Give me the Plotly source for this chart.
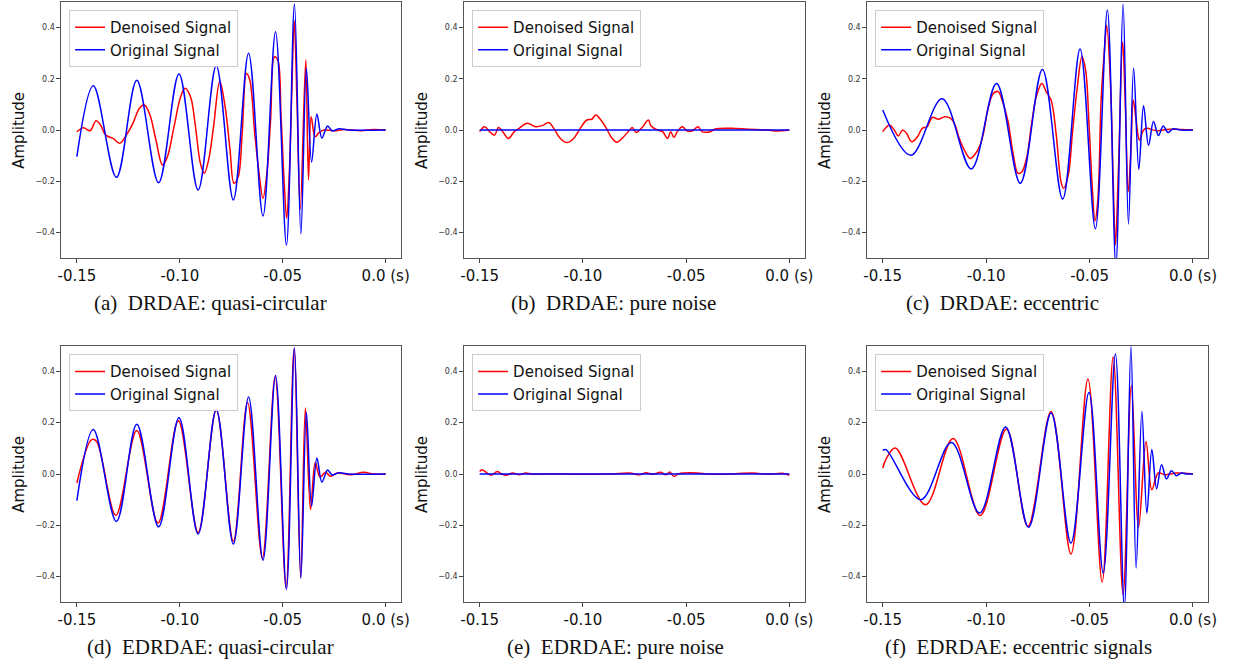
import plotly.graph_objects as go

# ---------------- data ----------------
# (a)/(d) original quasi-circular signal
t_qc_orig = [-0.15, -0.142, -0.1308, -0.1209, -0.1103, -0.1004, -0.0911, -0.0823, -0.074, -0.0666,
             -0.0596, -0.0535, -0.0482, -0.0443, -0.0412, -0.0385, -0.036, -0.0334, -0.031, -0.0282,
             -0.026, -0.0228, -0.018, 0.0]
v_qc_orig = [-0.104, 0.173, -0.185, 0.194, -0.206, 0.219, -0.234, 0.251, -0.273, 0.30,
             -0.336, 0.384, -0.45, 0.492, -0.406, 0.241, -0.125, 0.0625, -0.031, 0.016,
             -0.004, 0.005, 0.0, 0.0]

# (a) DRDAE denoised quasi-circular
t_a_den = [-0.15, -0.1468, -0.1436, -0.1407, -0.1388, -0.1359, -0.1324, -0.1292, -0.126, -0.1228,
           -0.1196, -0.1172, -0.1145, -0.1116, -0.1084, -0.106, -0.1028, -0.0996, -0.0975, -0.0948,
           -0.0924, -0.09, -0.0881, -0.086, -0.0836, -0.0806, -0.078, -0.0756, -0.0737, -0.0716,
           -0.0697, -0.0676, -0.066, -0.0636, -0.0615, -0.0596, -0.0577, -0.0559, -0.054, -0.0524,
           -0.0508, -0.0492, -0.0481, -0.0468, -0.0457, -0.0444, -0.0431, -0.0415, -0.0388, -0.0375,
           -0.0362, -0.0343, -0.0324, -0.03, -0.025, -0.02, -0.012, -0.006, 0.0]
v_a_den = [-0.007, 0.009, -0.003, 0.036, 0.023, -0.02, -0.033, -0.052, -0.02, 0.026,
           0.085, 0.098, 0.059, -0.039, -0.137, -0.104, 0.013, 0.13, 0.163, 0.13,
           0.013, -0.13, -0.169, -0.117, 0.013, 0.19, 0.091, -0.078, -0.208, -0.182,
           -0.013, 0.221, 0.195, -0.013, -0.169, -0.267, -0.169, 0.039, 0.286, 0.273,
           0.052, -0.221, -0.345, -0.169, 0.117, 0.427, 0.117, -0.31, 0.273, -0.195,
           0.052, -0.026, -0.01, 0.0, -0.003, 0.002, -0.003, 0.002, 0.0]

# (b)/(e) original pure-noise case: flat zero
t_flat = [-0.15, 0.0]
v_flat = [0.0, 0.0]

# (b) DRDAE denoised pure noise
t_b_den = [-0.15, -0.1476, -0.1452, -0.1428, -0.1409, -0.1388, -0.1361, -0.1332, -0.1309, -0.1269,
           -0.1229, -0.1197, -0.1165, -0.1141, -0.1109, -0.1077, -0.1045, -0.1013, -0.0981, -0.0957,
           -0.0937, -0.091, -0.0886, -0.0862, -0.0835, -0.0806, -0.0774, -0.0761, -0.0742, -0.071,
           -0.0683, -0.067, -0.0638, -0.0614, -0.059, -0.0575, -0.0559, -0.0543, -0.0519, -0.0495,
           -0.0471, -0.0442, -0.0423, -0.0383, -0.0359, -0.0279, -0.02, -0.0104, -0.0072, 0.0]
v_b_den = [-0.0065, 0.013, -0.0065, -0.02, 0.010, -0.0065, -0.033, -0.0065, 0.0065, 0.026,
           0.013, 0.017, 0.029, 0.0065, -0.033, -0.049, -0.033, 0.0065, 0.039, 0.042,
           0.059, 0.036, 0.0065, -0.029, -0.048, -0.029, 0.0, 0.010, -0.010, 0.013,
           0.039, 0.016, 0.0, -0.0065, -0.033, -0.0065, -0.029, -0.0065, 0.013, -0.004,
           -0.004, 0.013, -0.0065, -0.0065, 0.004, 0.0065, 0.003, 0.0, -0.004, 0.0]

# (c) original eccentric signal
t_c_orig = [-0.15, -0.1364, -0.1213, -0.1072, -0.095, -0.0835, -0.0728, -0.063, -0.0546, -0.0472,
            -0.0414, -0.0373, -0.0338, -0.0312, -0.0287, -0.0262, -0.0239, -0.0215, -0.0191, -0.0167,
            -0.0144, -0.012, -0.0096, -0.006, 0.0]
v_c_orig = [0.078, -0.099, 0.122, -0.152, 0.182, -0.208, 0.236, -0.27, 0.316, -0.386,
            0.469, -0.53, 0.492, -0.367, 0.242, -0.154, 0.095, -0.06, 0.033, -0.021,
            0.016, -0.010, 0.005, 0.0, 0.0]

# (c) DRDAE denoised eccentric
t_c_den = [-0.15, -0.1484, -0.1468, -0.1444, -0.1425, -0.1404, -0.1385, -0.136, -0.1332, -0.1309,
           -0.1285, -0.1261, -0.1229, -0.12, -0.1173, -0.1152, -0.1133, -0.1101, -0.1077, -0.1053,
           -0.1029, -0.1013, -0.0989, -0.0965, -0.0942, -0.0918, -0.0894, -0.087, -0.0846, -0.0827,
           -0.0803, -0.0782, -0.0758, -0.0731, -0.071, -0.0686, -0.0662, -0.0638, -0.0626, -0.0603,
           -0.0583, -0.0559, -0.0537, -0.0519, -0.0503, -0.0487, -0.0474, -0.046, -0.0444, -0.0428,
           -0.0417, -0.0399, -0.0385, -0.0375, -0.036, -0.034, -0.0327, -0.0313, -0.03, -0.0289,
           -0.0275, -0.0259, -0.0239, -0.0223, -0.0176, -0.0112, 0.0]
v_c_den = [-0.0065, 0.010, 0.02, 0.0, -0.023, 0.0, -0.013, -0.046, -0.026, 0.0065,
           0.013, 0.049, 0.042, 0.052, 0.046, 0.023, -0.026, -0.085, -0.111, -0.094,
           -0.059, -0.013, 0.091, 0.143, 0.15, 0.104, 0.033, -0.091, -0.169, -0.163,
           -0.104, 0.013, 0.13, 0.182, 0.15, 0.117, -0.013, -0.202, -0.228, -0.176,
           -0.013, 0.169, 0.286, 0.234, 0.026, -0.221, -0.355, -0.273, 0.117, 0.313,
           0.408, 0.182, -0.221, -0.449, -0.143, 0.345, 0.091, -0.241, -0.078, 0.117,
           0.039, -0.039, 0.0, 0.0065, -0.003, 0.003, 0.0]

# (d) EDRDAE denoised quasi-circular
t_d_den = [-0.15, -0.1428, -0.1404, -0.1311, -0.1209, -0.1106, -0.1007, -0.0911, -0.0823, -0.074,
           -0.0671, -0.0599, -0.0537, -0.0484, -0.0445, -0.0413, -0.039, -0.0365, -0.0342, -0.0319,
           -0.0292, -0.0268, -0.0236, -0.017, -0.0107, -0.006, 0.0]
v_d_den = [-0.035, 0.134, 0.127, -0.161, 0.17, -0.191, 0.208, -0.227, 0.248, -0.262,
           0.279, -0.327, 0.378, -0.442, 0.487, -0.403, 0.257, -0.139, 0.045, -0.012,
           0.0065, -0.009, 0.004, -0.003, 0.0065, 0.0, 0.0]

# (e) EDRDAE denoised pure noise
t_e_den = [-0.15, -0.1489, -0.1468, -0.1444, -0.1415, -0.1396, -0.1372, -0.134, -0.1309, -0.1277,
           -0.1245, -0.1189, -0.1029, -0.087, -0.0774, -0.0726, -0.0694, -0.0662, -0.0622, -0.0598,
           -0.0579, -0.0559, -0.0535, -0.0447, -0.0391, -0.0263, -0.0176, -0.0104, -0.0032, 0.0]
v_e_den = [0.010, 0.017, 0.0065, -0.005, 0.010, 0.001, -0.005, 0.004, -0.003, 0.004,
           -0.001, 0.0, -0.001, 0.0, 0.004, -0.003, 0.005, -0.001, 0.0065, -0.003,
           0.008, -0.009, 0.001, 0.004, -0.001, 0.001, 0.004, -0.001, 0.003, -0.005]

# (f) original eccentric signal
t_f_orig = [-0.15, -0.1484, -0.1316, -0.1168, -0.1032, -0.0906, -0.0795, -0.0686, -0.059, -0.0503,
            -0.0434, -0.0375, -0.0332, -0.03, -0.0275, -0.0247, -0.0223, -0.0199, -0.0176, -0.0152,
            -0.0128, -0.0104, -0.008, -0.0056, -0.003, 0.0]
v_f_orig = [0.092, 0.095, -0.10, 0.123, -0.152, 0.183, -0.208, 0.238, -0.269, 0.318,
            -0.386, 0.469, -0.52, 0.497, -0.366, 0.244, -0.152, 0.095, -0.057, 0.036,
            -0.019, 0.013, -0.0065, 0.004, 0.0, 0.0]

# (f) EDRDAE denoised eccentric
t_f_den = [-0.15, -0.1484, -0.1439, -0.1293, -0.116, -0.1029, -0.0902, -0.0798, -0.0686, -0.059,
           -0.0508, -0.0439, -0.0386, -0.0338, -0.0298, -0.0263, -0.0227, -0.0199, -0.0168, -0.0136,
           -0.008, 0.0]
v_f_den = [0.023, 0.058, 0.101, -0.12, 0.138, -0.162, 0.175, -0.204, 0.244, -0.312,
           0.37, -0.421, 0.456, -0.47, 0.344, -0.208, 0.127, -0.061, 0.004, -0.003,
           0.004, 0.0]

captions = ["(a)\u00a0 DRDAE: quasi-circular", "(b)\u00a0 DRDAE: pure noise",
            "(c)\u00a0 DRDAE: eccentric", "(d)\u00a0 EDRDAE: quasi-circular",
            "(e)\u00a0 EDRDAE: pure noise", "(f)\u00a0 EDRDAE: eccentric signals"]
series_names = ["Denoised Signal", "Original Signal"]
x_tick_vals = [-0.15, -0.10, -0.05, 0.0]
x_tick_text = ["-0.15", "-0.10", "-0.05", "0.0 (s)"]
y_tick_vals = [-0.4, -0.2, 0.0, 0.2, 0.4]
y_tick_text = ["\u22120.4", "\u22120.2", "0.0", "0.2", "0.4"]

panel_data = [
    ((t_a_den, v_a_den), (t_qc_orig, v_qc_orig)),
    ((t_b_den, v_b_den), (t_flat, v_flat)),
    ((t_c_den, v_c_den), (t_c_orig, v_c_orig)),
    ((t_d_den, v_d_den), (t_qc_orig, v_qc_orig)),
    ((t_e_den, v_e_den), (t_flat, v_flat)),
    ((t_f_den, v_f_den), (t_f_orig, v_f_orig)),
]

# ---------------- layout geometry (pixels) ----------------
W, H = 1236, 662
col_px = [(58, 401), (464.7, 808.7), (871.7, 1216.3)]
row_px = [(2, 258), (345.7, 602.3)]
legend_left_px = [65.7, 472.7, 879.7]
legend_top_px = [10, 354.3]
ylabel_x_px = [15, 422, 829]
caption_x_px = [[209, 615, 1008], [209, 617, 1024]]
caption_y_px = [303, 647]

fig = go.Figure()
layout = dict(
    width=W, height=H,
    margin=dict(l=0, r=0, t=0, b=0),
    paper_bgcolor="white", plot_bgcolor="white",
    font=dict(family="DejaVu Sans", color="#222"),
    annotations=[],
)

colors = ["#ff0000", "#0000ff"]

for i, (den, orig) in enumerate(panel_data):
    r, c = divmod(i, 3)
    sfx = "" if i == 0 else str(i + 1)
    xa, ya = "x" + sfx, "y" + sfx
    lg = "legend" + sfx
    for k, (tt, vv) in enumerate((den, orig)):
        fig.add_trace(go.Scatter(
            x=tt, y=vv, mode="lines", name=series_names[k],
            line=dict(color=colors[k], width=1.5, shape="spline", smoothing=1.0),
            xaxis=xa, yaxis=ya, legend=lg, showlegend=True,
        ))
    x0, x1 = col_px[c]
    y0, y1 = row_px[r]
    axis_common = dict(showgrid=False, zeroline=False, showline=True, mirror=True,
                       linecolor="#555", linewidth=1, ticks="outside", ticklen=4,
                       tickcolor="#444", tickwidth=1)
    layout["xaxis" + sfx] = dict(
        domain=[x0 / W, x1 / W], anchor=ya, range=[-0.1575, 0.0075],
        tickmode="array", tickvals=x_tick_vals, ticktext=x_tick_text,
        tickfont=dict(family="DejaVu Sans", size=15, color="#111"), **axis_common)
    layout["yaxis" + sfx] = dict(
        domain=[1 - y1 / H, 1 - y0 / H], anchor=xa, range=[-0.5, 0.5],
        tickmode="array", tickvals=y_tick_vals, ticktext=y_tick_text,
        tickfont=dict(family="DejaVu Sans", size=8, color="#333"), **axis_common)
    layout[lg] = dict(
        x=legend_left_px[c] / W, y=1 - legend_top_px[r] / H, xanchor="left", yanchor="top",
        xref="paper", yref="paper",
        bgcolor="rgba(255,255,255,0.85)", bordercolor="#cccccc", borderwidth=1,
        font=dict(family="DejaVu Sans", size=15, color="#111"),
    )
    layout["annotations"].append(dict(
        text="Amplitude", textangle=-90, xref="paper", yref="paper",
        x=ylabel_x_px[c] / W, y=1 - (y0 + y1) / 2 / H, showarrow=False,
        font=dict(family="DejaVu Sans", size=15, color="#111"),
        xanchor="center", yanchor="middle"))
    layout["annotations"].append(dict(
        text=captions[i], xref="paper", yref="paper",
        x=caption_x_px[r][c] / W, y=1 - caption_y_px[r] / H, showarrow=False,
        font=dict(family="Liberation Serif", size=21, color="#111"),
        xanchor="center", yanchor="middle"))

fig.update_layout(**layout)
fig.write_html("out.html", config={"displayModeBar": False},
               post_script="document.body.style.margin='0';document.body.style.overflow='hidden';")
